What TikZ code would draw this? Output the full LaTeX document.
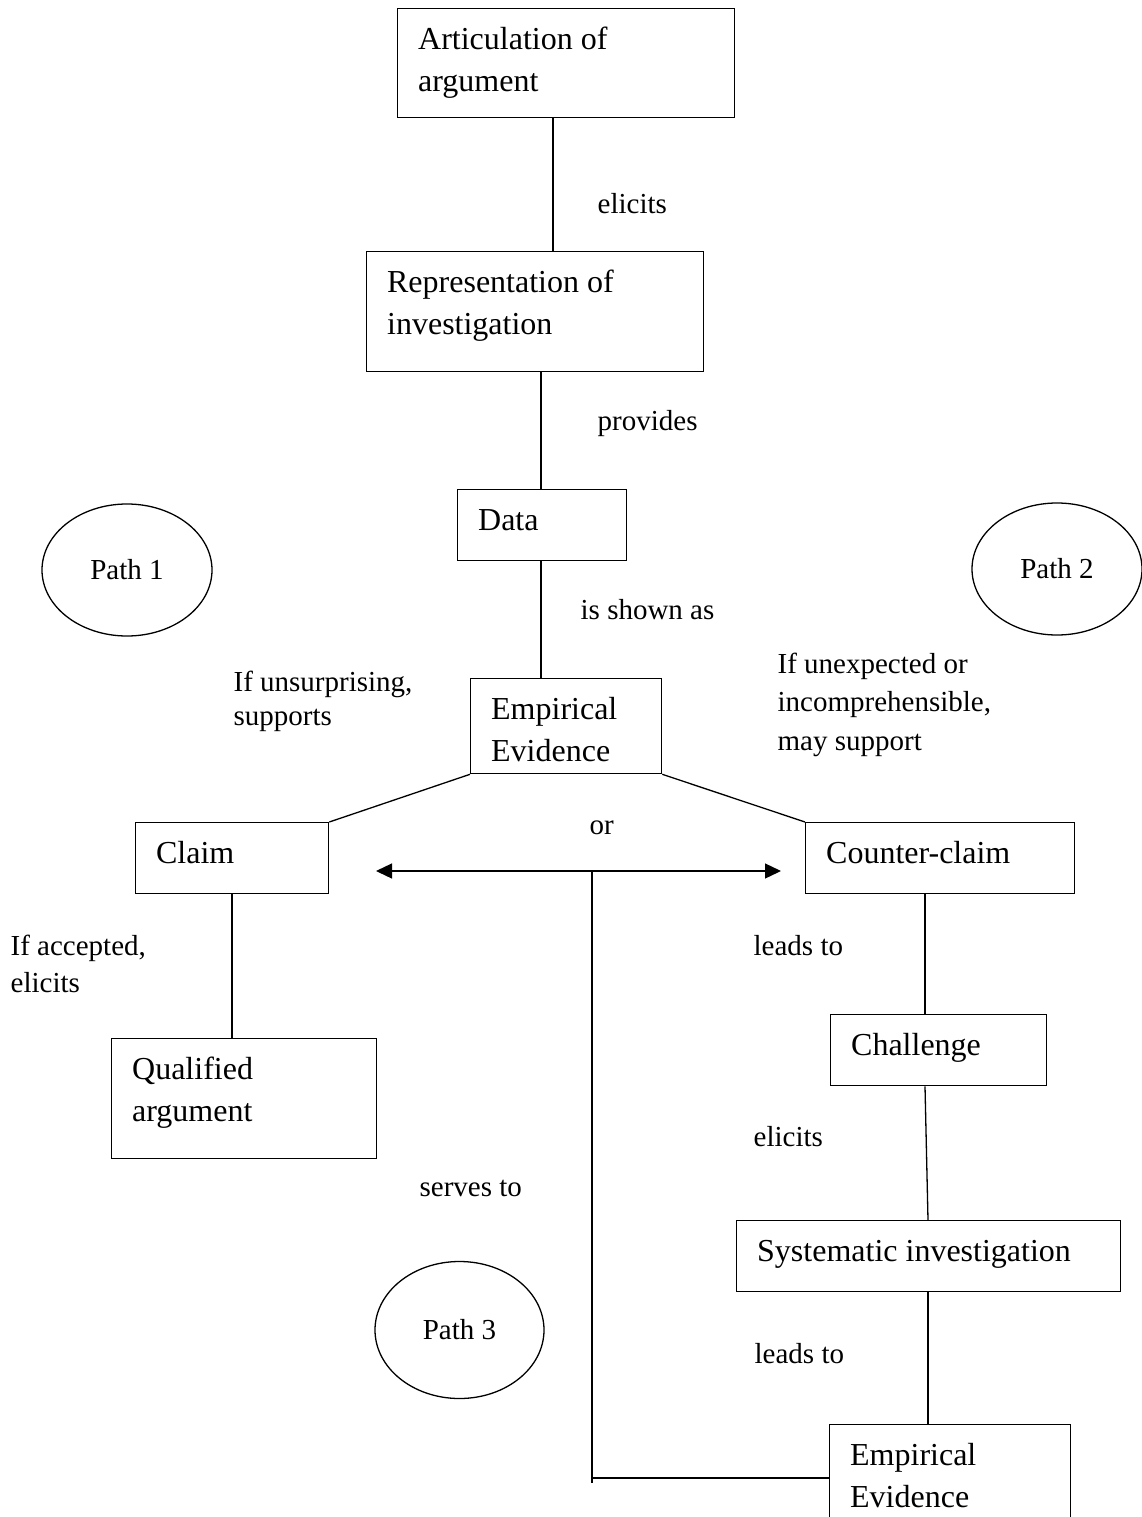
\documentclass[tikz,border=0pt]{standalone}
\usepackage{fontspec}
\setmainfont{Liberation Serif}
\usetikzlibrary{arrows.meta,shapes.geometric}
\newcommand\bxt[3]{\parbox[c][#2pt][t]{#1pt}{\fontsize{32}{42}\selectfont\parindent=0pt\leftskip=20.5pt\rule{0pt}{41pt}#3}}
\newcommand\lbt[2]{{\fontsize{29}{#1}\selectfont\begin{tabular}[t]{@{}l@{}}#2\end{tabular}}}
\begin{document}
\begin{tikzpicture}[x=1pt,y=-1pt, line width=1.3pt,
  box/.style={draw, inner sep=0pt, anchor=north west},
  lbl/.style={inner sep=0pt, anchor=base west, font=\fontsize{29}{37}\selectfont},
  pathel/.style={draw, ellipse, inner sep=0pt, font=\fontsize{29}{37}\selectfont},
  tip/.style={{Triangle[length=16pt,width=15pt]}-{Triangle[length=16pt,width=15pt]}}]
\useasboundingbox (0,0) rectangle (1142,1517);
\clip (0,0) rectangle (1142,1517);

% boxes
\node[box] (art) at (397,8)    {\bxt{337}{109}{Articulation of\\argument}};
\node[box] (rep) at (366,251)  {\bxt{337}{120}{Representation of\\investigation}};
\node[box] (dat) at (457,489)  {\bxt{169}{71}{Data}};
\node[box] (ee)  at (470,678)  {\bxt{191}{95}{Empirical\\Evidence}};
\node[box] (cla) at (135,822)  {\bxt{193}{71}{Claim}};
\node[box] (cc)  at (805,822)  {\bxt{269}{71}{Counter-claim}};
\node[box] (qa)  at (111,1038) {\bxt{265}{120}{Qualified\\argument}};
\node[box] (cha) at (830,1014) {\bxt{216}{71}{Challenge}};
\node[box] (sys) at (736,1220) {\bxt{384}{71}{Systematic investigation}};
\node[box] (ee2) at (829,1424) {\bxt{241}{120}{Empirical\\Evidence}};

% path ellipses
\node[pathel, minimum width=170pt, minimum height=132pt] (p1) at (127,570) {Path 1};
\node[pathel, minimum width=170pt, minimum height=132pt] (p2) at (1057,569) {Path 2};
\node[pathel, minimum width=169pt, minimum height=137pt] (p3) at (459.5,1330) {Path 3};

% labels
\node[lbl] (l1) at (597,213) {elicits};
\node[lbl] (l2) at (597,430) {provides};
\node[lbl] (l3) at (580,619) {is shown as};
\node[lbl] (l4) at (233,691) {\lbt{34}{If unsurprising,\\supports}};
\node[lbl] (l5) at (777,673) {\lbt{38.5}{If unexpected or\\incomprehensible,\\may support}};
\node[lbl] (l6) at (589,834) {or};
\node[lbl] (l7) at (10,955) {\lbt{37}{If accepted,\\elicits}};
\node[lbl] (l8) at (753,955) {leads to};
\node[lbl] (l9) at (753,1146) {elicits};
\node[lbl] (l10) at (419,1196) {serves to};
\node[lbl] (l11) at (754,1363) {leads to};

% connectors
\coordinate (xa) at (553,0);
\coordinate (xb) at (541,0);
\coordinate (xc) at (232,0);
\coordinate (xd) at (925,0);
\coordinate (xe) at (928,0);
\draw (art.south -| xa) -- (rep.north -| xa);
\draw (rep.south -| xb) -- (dat.north -| xb);
\draw (dat.south -| xb) -- (ee.north -| xb);
\draw (ee.south west) -- (cla.north east);
\draw (ee.south east) -- (cc.north west);
\draw (cla.south -| xc) -- (qa.north -| xc);
\draw (cc.south -| xd) -- (cha.north -| xd);
\draw (cha.south -| xd) -- (sys.north -| xe);
\draw (sys.south -| xe) -- (ee2.north -| xe);

\coordinate (arL) at (376,871);
\coordinate (arR) at (781,871);
\draw[tip] (arL) -- (arR);
\coordinate (xv) at (592,0);
\coordinate (vb) at (592,1483);
\coordinate (hy) at (0,1478);
\draw (arL -| xv) -- (vb);
\draw (xv |- hy) -- (ee2.west |- hy);
\end{tikzpicture}
\end{document}
